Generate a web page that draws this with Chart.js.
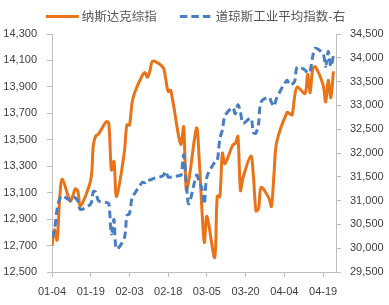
<!DOCTYPE html>
<html>
<head>
<meta charset="utf-8">
<script src="https://cdn.jsdelivr.net/npm/chart.js@4.4.0/dist/chart.umd.min.js"></script>
<style>
  html, body { margin: 0; padding: 0; background: #fff; }
  #wrap { width: 389px; height: 305px; }
</style>
</head>
<body>
<div id="wrap"><canvas id="chart" width="389" height="305"></canvas></div>
<script>
// 交易日 (2021)
const dates = [
  '01-04','01-05','01-06','01-07','01-08','01-11','01-12','01-13','01-14','01-15',
  '01-19','01-20','01-21','01-22','01-25','01-26','01-27','01-28','01-29',
  '02-01','02-02','02-03','02-04','02-05','02-08','02-09','02-10','02-11','02-12',
  '02-16','02-17','02-18','02-19','02-22','02-23','02-24','02-25','02-26',
  '03-01','03-02','03-03','03-04','03-05','03-08','03-09','03-10','03-11','03-12',
  '03-15','03-16','03-17','03-18','03-19','03-22','03-23','03-24','03-25','03-26',
  '03-29','03-30','03-31',
  '04-01','04-05','04-06','04-07','04-08','04-09','04-12','04-13','04-14','04-15',
  '04-16','04-19','04-20','04-21','04-22','04-23'
];

const nasdaq = [
  12698,12819,12741,13067,13202,13036,13072,13129,13113,12999,
  13197,13457,13531,13543,13636,13626,13271,13337,13071,
  13403,13613,13611,13778,13856,13988,14008,13973,14026,14095,
  14048,13965,13865,13874,13533,13465,13598,13119,13192,
  13589,13359,12998,12723,12920,12609,13074,13069,13399,13320,
  13460,13472,13525,13116,13215,13378,13228,12962,12978,13139,
  13060,12996,13247,
  13480,13706,13698,13689,13829,13900,13850,13996,13858,14039,
  14052,13915,13786,13950,13818,14017
];

const dow = [
  30224,30392,30829,31041,31098,31009,31069,31060,30992,30814,
  30931,31188,31176,30997,30960,30937,30303,30603,29983,
  30212,30687,30724,31056,31148,31386,31376,31438,31431,31458,
  31523,31613,31493,31494,31522,31537,31962,31402,30932,
  31536,31392,31270,30924,31496,31802,31833,32297,32486,32779,
  32953,32826,33015,32862,32628,32731,32423,32420,32619,33073,
  33171,33067,32982,
  33153,33527,33430,33446,33504,33801,33745,33677,33731,34036,
  34201,34078,33821,34137,33816,34043
];

const xTickLabels = ['01-04','01-19','02-03','02-18','03-05','03-20','04-04','04-19'];
const seriesNames = ['纳斯达克综指', '道琼斯工业平均指数-右'];

// 日期 -> 距 01-04 的天数
function dayOffset(s) {
  const [m, d] = s.split('-').map(Number);
  return (Date.UTC(2021, m - 1, d) - Date.UTC(2021, 0, 4)) / 86400000;
}
const xs = dates.map(dayOffset);

const axisColor = '#BFBFBF';
const textColor = '#404040';
const tickFont = { family: '"Liberation Sans", Arial, sans-serif', size: 11 };

// 顶部图例（线段 + 文字）
const topLegend = {
  id: 'topLegend',
  afterDraw(chart) {
    const ctx = chart.ctx;
    const lineW = 33, gap = 3, itemGap = 23, cy = 16.5;
    ctx.save();
    ctx.font = '12.5px "Noto Sans CJK SC", sans-serif';
    const widths = chart.data.datasets.map(ds => ctx.measureText(ds.label).width);
    let total = 0;
    widths.forEach((w, i) => { total += lineW + gap + w + (i ? itemGap : 0); });
    let x = (chart.width - total) / 2 + 1;
    chart.data.datasets.forEach((ds, i) => {
      ctx.beginPath();
      ctx.strokeStyle = ds.borderColor;
      ctx.lineWidth = ds.borderWidth;
      ctx.setLineDash(ds.borderDash || []);
      ctx.moveTo(x, cy);
      ctx.lineTo(x + lineW, cy);
      ctx.stroke();
      ctx.setLineDash([]);
      ctx.fillStyle = '#555555';
      ctx.textBaseline = 'middle';
      ctx.textAlign = 'left';
      ctx.fillText(ds.label, x + lineW + gap, cy);
      x += lineW + gap + widths[i] + itemGap;
    });
    ctx.restore();
  }
};

new Chart(document.getElementById('chart').getContext('2d'), {
  type: 'line',
  data: {
    datasets: [
      {
        label: seriesNames[0],
        data: xs.map((x, i) => ({ x: x, y: nasdaq[i] })),
        borderColor: '#EA7317',
        borderWidth: 3,
        pointRadius: 0,
        tension: 0.3,
        yAxisID: 'y',
        order: 1
      },
      {
        label: seriesNames[1],
        data: xs.map((x, i) => ({ x: x, y: dow[i] })),
        borderColor: '#4A7EC2',
        borderWidth: 3,
        borderDash: [7.5, 4],
        pointRadius: 0,
        tension: 0.3,
        yAxisID: 'y1',
        order: 0
      }
    ]
  },
  options: {
    responsive: false,
    animation: false,
    devicePixelRatio: 1,
    layout: { padding: { top: 34, left: 0, right: 0, bottom: 0 } },
    plugins: {
      legend: { display: false },
      tooltip: { enabled: false }
    },
    scales: {
      x: {
        type: 'linear',
        min: 0,
        max: 110,
        afterFit: s => { s.height = 33; },
        ticks: {
          stepSize: 15,
          includeBounds: false,
          autoSkip: false,
          maxRotation: 0,
          padding: 8,
          color: textColor,
          font: tickFont,
          callback: v => xTickLabels[Math.round(v / 15)] || ''
        },
        grid: { drawOnChartArea: false, drawTicks: true, tickLength: 5, color: axisColor },
        border: { color: axisColor }
      },
      y: {
        position: 'left',
        min: 12500,
        max: 14300,
        afterFit: s => { s.width = 52; },
        ticks: {
          stepSize: 200,
          padding: 10,
          color: textColor,
          font: tickFont,
          callback: v => v.toLocaleString('en-US')
        },
        grid: { drawOnChartArea: false, drawTicks: true, tickLength: 5, color: axisColor },
        border: { color: axisColor }
      },
      y1: {
        position: 'right',
        min: 29500,
        max: 34500,
        afterFit: s => { s.width = 53; },
        ticks: {
          stepSize: 500,
          padding: 9,
          color: textColor,
          font: tickFont,
          callback: v => v.toLocaleString('en-US')
        },
        grid: { drawOnChartArea: false, drawTicks: true, tickLength: 5, color: axisColor },
        border: { color: axisColor }
      }
    }
  },
  plugins: [topLegend]
});
</script>
</body>
</html>
